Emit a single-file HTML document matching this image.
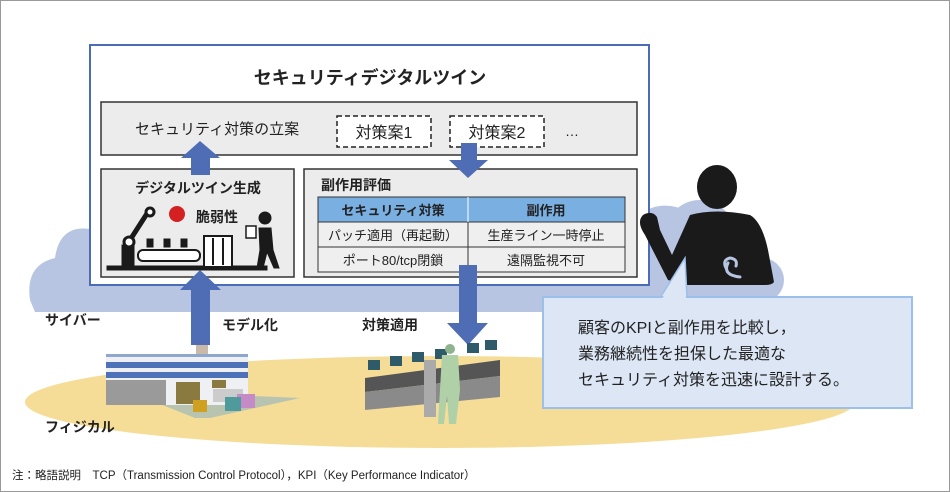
<!DOCTYPE html>
<html><head><meta charset="utf-8"><style>
html,body{margin:0;padding:0;background:#fff}
svg{display:block}
text{font-family:"Liberation Sans","Noto Sans CJK JP",sans-serif;fill:#222}
</style></head><body>
<svg width="950" height="492" viewBox="0 0 950 492" xmlns="http://www.w3.org/2000/svg">
<rect x="0.5" y="0.5" width="949" height="491" fill="#fff" stroke="#999"/>
<!-- yellow ground -->
<ellipse cx="440" cy="402" rx="415" ry="46" fill="#f5dd98"/>
<!-- cloud -->
<path d="M30 300 Q25 265 55 258 Q60 222 95 230 Q110 205 150 215 L640 215 Q660 198 690 212 Q712 220 700 250 Q725 270 705 300 L700 312 L35 312 Z" fill="#b7c5e2"/>
<circle cx="700" cy="235" r="35" fill="#b7c5e2"/>
<circle cx="762" cy="280" r="22" fill="#b7c5e2"/>
<rect x="640" y="250" width="125" height="50" fill="#b7c5e2"/>
<!-- main box -->
<rect x="90" y="45" width="559" height="240" fill="#fff" stroke="#4b6cb7" stroke-width="2"/>
<!-- person -->
<ellipse cx="717" cy="187" rx="20" ry="22" fill="#1a1a1a"/>
<path d="M690 215 Q715 208 750 215 Q762 222 768 250 L774 282 Q772 285 765 285 L685 285 L668 280 L645 235 Q636 222 643 215 Q652 210 657 217 L660 230 L672 255 Z" fill="#1a1a1a"/>
<path d="M726 268 Q722 260 730 258 Q738 259 736 266 M728 263 Q722 275 740 277" stroke="#b7c5e2" stroke-width="3" fill="none" stroke-linecap="round"/>
<text x="370" y="84" font-size="18" font-weight="bold" text-anchor="middle">セキュリティデジタルツイン</text>
<rect x="101" y="102" width="536" height="53" fill="#ececec" stroke="#333" stroke-width="1.5"/>
<text x="135" y="134" font-size="15">セキュリティ対策の立案</text>
<rect x="337" y="116" width="94" height="31" fill="#fff" stroke="#222" stroke-width="1.5" stroke-dasharray="5,3"/>
<text x="384" y="138" font-size="16" text-anchor="middle">対策案1</text>
<rect x="450" y="116" width="94" height="31" fill="#fff" stroke="#222" stroke-width="1.5" stroke-dasharray="5,3"/>
<text x="497" y="138" font-size="16" text-anchor="middle">対策案2</text>
<text x="565" y="136" font-size="14">…</text>
<rect x="101" y="169" width="193" height="108" fill="#ececec" stroke="#333" stroke-width="1.5"/>
<rect x="304" y="169" width="333" height="108" fill="#ececec" stroke="#333" stroke-width="1.5"/>
<text x="198" y="193" font-size="14" font-weight="bold" text-anchor="middle">デジタルツイン生成</text>
<text x="196" y="222" font-size="14" font-weight="bold">脆弱性</text>
<!-- robot icon -->
<g fill="#1a1a1a" stroke="#1a1a1a">
<rect x="107" y="266" width="160" height="4"/>
<rect x="122" y="245" width="12" height="22"/>
<line x1="130" y1="240" x2="148" y2="212" stroke-width="5"/>
<circle cx="129" cy="242" r="5" fill="#fff" stroke-width="3"/>
<circle cx="150" cy="212" r="4" fill="#fff" stroke-width="3"/>
<rect x="138" y="250" width="62" height="11" rx="5" fill="#fff" stroke-width="2"/>
<rect x="147" y="239" width="6" height="8"/><rect x="164" y="239" width="6" height="8"/><rect x="181" y="239" width="6" height="8"/>
<rect x="204" y="236" width="28" height="31" fill="#fff" stroke-width="2"/>
<line x1="213" y1="238" x2="213" y2="265" stroke-width="2"/><line x1="223" y1="238" x2="223" y2="265" stroke-width="2"/>
<circle cx="265" cy="218" r="6"/>
<path d="M259 228 L271 228 L273 250 L279 268 L274 268 L267 252 L263 268 L257 268 L260 250 Z"/>
<rect x="246" y="226" width="10" height="12" fill="#fff" stroke-width="1.5"/>
</g>
<circle cx="177" cy="214" r="8" fill="#d42020"/>
<text x="321" y="190" font-size="14" font-weight="bold">副作用評価</text>
<!-- table -->
<rect x="318" y="197" width="307" height="25" fill="#7aafe2" stroke="#333"/>
<rect x="318" y="222" width="307" height="50" fill="#efefef" stroke="#333"/>
<line x1="318" y1="247" x2="625" y2="247" stroke="#333"/>
<line x1="468" y1="197" x2="468" y2="272" stroke="#fff" stroke-width="1"/>
<line x1="468" y1="222" x2="468" y2="272" stroke="#333"/>
<text x="393" y="215" font-size="13" font-weight="bold" text-anchor="middle">セキュリティ対策</text>
<text x="546" y="215" font-size="13" font-weight="bold" text-anchor="middle">副作用</text>
<text x="393" y="240" font-size="13" text-anchor="middle">パッチ適用（再起動）</text>
<text x="546" y="240" font-size="13" text-anchor="middle">生産ライン一時停止</text>
<text x="393" y="265" font-size="13" text-anchor="middle">ポート80/tcp閉鎖</text>
<text x="546" y="265" font-size="13" text-anchor="middle">遠隔監視不可</text>
<!-- arrows -->
<g fill="#4e6db5">
<rect x="191" y="155" width="19" height="20"/><polygon points="181,158 220,158 200,141"/>
<rect x="461" y="143" width="16" height="20"/><polygon points="449,160 488,160 468,178"/>
<rect x="191" y="290" width="19" height="55"/><polygon points="180,290 221,290 200,270"/>
<rect x="459" y="265" width="18" height="60"/><polygon points="447,323 488,323 468,345"/>
</g>
<rect x="191" y="285" width="19" height="6" fill="#4e6db5"/>
<!-- labels -->
<text x="45" y="325" font-size="14" font-weight="bold">サイバー</text>
<text x="222" y="330" font-size="14" font-weight="bold">モデル化</text>
<text x="362" y="330" font-size="14" font-weight="bold">対策適用</text>
<text x="45" y="432" font-size="14" font-weight="bold">フィジカル</text>
<!-- factory -->
<polygon points="150,400 230,395 300,398 210,418 195,418" fill="#b8c4b0"/>
<rect x="196" y="345" width="12" height="9" fill="#c9b9a8"/>
<rect x="106" y="354" width="142" height="51" fill="#eef0f4"/>
<rect x="106" y="354" width="142" height="3" fill="#8fa6cf"/>
<rect x="106" y="362" width="142" height="6" fill="#4d72b8"/>
<rect x="106" y="372" width="142" height="6" fill="#4d72b8"/>
<rect x="106" y="380" width="60" height="25" fill="#9a9a9a"/>
<rect x="176" y="382" width="24" height="22" fill="#8a7a40"/>
<rect x="212" y="380" width="14" height="8" fill="#8a7a40"/>
<rect x="213" y="389" width="30" height="13" fill="#ccc"/>
<rect x="237" y="394" width="18" height="14" fill="#c48bc6"/>
<rect x="225" y="397" width="16" height="14" fill="#4f9a9a"/>
<rect x="193" y="400" width="14" height="12" fill="#d0a020"/>
<!-- control room -->
<polygon points="365,378 500,360 500,376 365,392" fill="#555"/>
<polygon points="365,392 500,376 500,397 365,410" fill="#8a8a8a"/>
<g fill="#2f5a6a">
<rect x="368" y="360" width="12" height="10"/><rect x="390" y="356" width="12" height="10"/>
<rect x="412" y="352" width="12" height="10"/><rect x="435" y="349" width="12" height="10"/>
<rect x="467" y="343" width="12" height="10"/><rect x="485" y="340" width="12" height="10"/>
</g>
<rect x="424" y="360" width="12" height="57" fill="#aaa"/>
<circle cx="450" cy="349" r="5" fill="#8fb38f"/>
<path d="M442 355 L458 355 L460 390 L456 424 L449 424 L447 396 L444 424 L438 424 Z" fill="#b0d0a8"/>
<!-- callout -->
<polygon points="660,298 685,258 687,298" fill="#dce6f5" stroke="#9cc0e9" stroke-width="1.5"/>
<rect x="543" y="297" width="369" height="111" fill="#dce6f5" stroke="#9cc0e9" stroke-width="2"/>
<polygon points="662,299 684,262 686,299" fill="#dce6f5"/>
<text x="578" y="333" font-size="16">顧客のKPIと副作用を比較し，</text>
<text x="578" y="359" font-size="16">業務継続性を担保した最適な</text>
<text x="578" y="385" font-size="16">セキュリティ対策を迅速に設計する。</text>
<text x="12" y="479" font-size="11.5">注：略語説明　TCP（Transmission Control Protocol），KPI（Key Performance Indicator）</text>
</svg>
</body></html>
